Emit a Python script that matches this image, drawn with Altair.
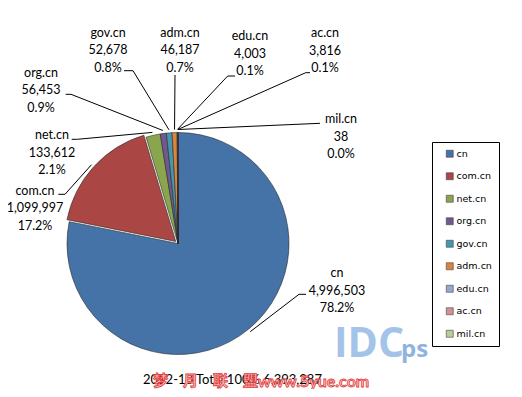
import math
import altair as alt
import pandas as pd

# ---- data ----
domains = ["cn", "com.cn", "net.cn", "org.cn", "gov.cn", "adm.cn", "edu.cn", "ac.cn", "mil.cn"]
counts = [4996503, 1099997, 133612, 56453, 52678, 46187, 4003, 3816, 38]
colors = ["#4572A7", "#AA4643", "#89A54E", "#71588F", "#4198AF",
          "#DB843D", "#93A9CF", "#D19392", "#B9CD96"]
period = "2012-10"

# ---- label layout (image pixel coordinates of the first text line) ----
label_x = [337, 35, 52, 41, 108, 180, 250, 325, 341]
label_y = [273.3, 190.7, 135, 72.7, 32.7, 32.7, 36, 33.3, 119.3]
# leader-line elbows on the text side
elbow_x = [[306, 299], [58.3, 65], [71.7, 77.3], [65.7, 71], [124, 133], [175], [235, 227.7], [310, 305.7], [320]]
elbow_y = [[294.3, 294.3], [194.3, 194.3], [139.3, 139.3], [94.3, 94.3], [70.7, 70.7], [75], [76, 76], [72.7, 72.7], [123.3]]

W, H = 506, 381
CX, CY, R = 178, 243.5, 111
EXPLODE = {"com.cn": 3}
total = sum(counts)

xs = alt.Scale(domain=[8, 8 + W], nice=False, zero=False)
ys = alt.Scale(domain=[8, 8 + H], nice=False, zero=False, reverse=True)

pie_df = pd.DataFrame({"key": domains, "count": counts, "idx": list(range(len(domains)))})

# labels
texts = []
for d, c in zip(domains, counts):
    texts.append(f"{d}\n{c:,}\n{c / total * 100:.1f}%")
lab_df = pd.DataFrame({"key": domains, "text": texts, "lx": label_x, "ly": label_y})

# leader lines: elbows + point just outside the slice at its mid angle
rows = []
cum = 0
for i, (d, c) in enumerate(zip(domains, counts)):
    mid = (cum + c / 2) / total * 2 * math.pi
    cum += c
    e = EXPLODE.get(d, 0)
    cx = CX + e * math.sin(mid)
    cy = CY - e * math.cos(mid)
    pts = list(zip(elbow_x[i], elbow_y[i]))
    pts.append((cx + (R + 3) * math.sin(mid), cy - (R + 3) * math.cos(mid)))
    for j, (px, py) in enumerate(pts):
        rows.append({"key": d, "seq": j, "px": px, "py": py})
lead_df = pd.DataFrame(rows)

pie = (
    alt.Chart(pie_df)
    .transform_window(cum="sum(count)", sort=[{"field": "idx"}], frame=[None, 0])
    .transform_calculate(start="datum.cum - datum.count")
    .transform_calculate(mid=f"(datum.start + datum.count / 2) / {total} * 2 * PI")
    .transform_calculate(ex="datum.key == 'com.cn' ? 3 : 0")
    .transform_calculate(cx=f"{CX} + datum.ex * sin(datum.mid)",
                         cy=f"{CY} - datum.ex * cos(datum.mid)")
    .mark_arc(radius=R, stroke="#2a2a2a", strokeWidth=0.6)
    .encode(
        x=alt.X("cx:Q", scale=xs, axis=None),
        y=alt.Y("cy:Q", scale=ys, axis=None),
        theta=alt.Theta("start:Q", scale=alt.Scale(domain=[0, total], range=[0, 2 * math.pi])),
        theta2="cum:Q",
        color=alt.Color(
            "key:N",
            scale=alt.Scale(domain=domains, range=colors),
            sort=domains,
            legend=alt.Legend(
                title=None, orient="none", legendX=424, legendY=134,
                direction="vertical", symbolType="square", symbolSize=49,
                labelFont="DejaVu Sans", labelFontSize=9.5, labelColor="black",
                padding=7, rowPadding=11.5, strokeColor="black", fillColor="white",
                symbolOffset=6, labelOffset=2, labelExpr="datum.label + '    '",
                symbolStrokeWidth=0.6, symbolStrokeColor="#444",
            ),
        ),
    )
)

leaders = (
    alt.Chart(lead_df)
    .mark_line(color="black", strokeWidth=1)
    .encode(
        x=alt.X("px:Q", scale=xs, axis=None),
        y=alt.Y("py:Q", scale=ys, axis=None),
        detail="key:N",
        order="seq:Q",
    )
)

labels = (
    alt.Chart(lab_df)
    .mark_text(font="Lato", fontSize=12.5, color="black", lineBreak="\n",
               lineHeight=17.5, align="center", baseline="middle")
    .encode(
        x=alt.X("lx:Q", scale=xs, axis=None),
        y=alt.Y("ly:Q", scale=ys, axis=None),
        text="text:N",
    )
)

total_df = pd.DataFrame({"t": [f"{period} Total 100%  {total:,}"], "x": [143], "y": [380]})
total_txt = (
    alt.Chart(total_df)
    .mark_text(font="Lato", fontSize=13, color="black", align="left", baseline="middle")
    .encode(x=alt.X("x:Q", scale=xs, axis=None), y=alt.Y("y:Q", scale=ys, axis=None), text="t:N")
)


def wm(text, x, y, size, font, color, stroke=None):
    df = pd.DataFrame({"t": [text], "x": [x], "y": [y]})
    kw = dict(font=font, fontWeight="bold", fontSize=size, color=color,
              align="left", baseline="alphabetic")
    if stroke:
        kw.update(stroke=stroke, strokeWidth=0.8)
    return (
        alt.Chart(df)
        .mark_text(**kw)
        .encode(x=alt.X("x:Q", scale=xs, axis=None), y=alt.Y("y:Q", scale=ys, axis=None), text="t:N")
    )


blue_idc = wm("IDC", 334, 357, 41, "Open Sans", "#a4c3e8")
blue_ps = wm("ps", 401, 357, 24, "Open Sans", "#8fb3e0")
red_cn = wm("梦　月　联　盟", 153, 386, 15, "Noto Sans CJK SC", "#f7c4c4", "#e23a3a")
red_url = wm("www.5yue.com", 258, 387, 16, "Lato", "#f7c4c4", "#e23a3a")

chart = (
    alt.layer(blue_idc, blue_ps, pie, leaders, labels, total_txt, red_cn, red_url)
    .properties(width=W, height=H, padding=0, background="white",
                autosize=alt.AutoSizeParams(type="none"))
    .configure_view(stroke=None)
)

chart.save("out.html", embed_options={"renderer": "svg", "actions": False})
